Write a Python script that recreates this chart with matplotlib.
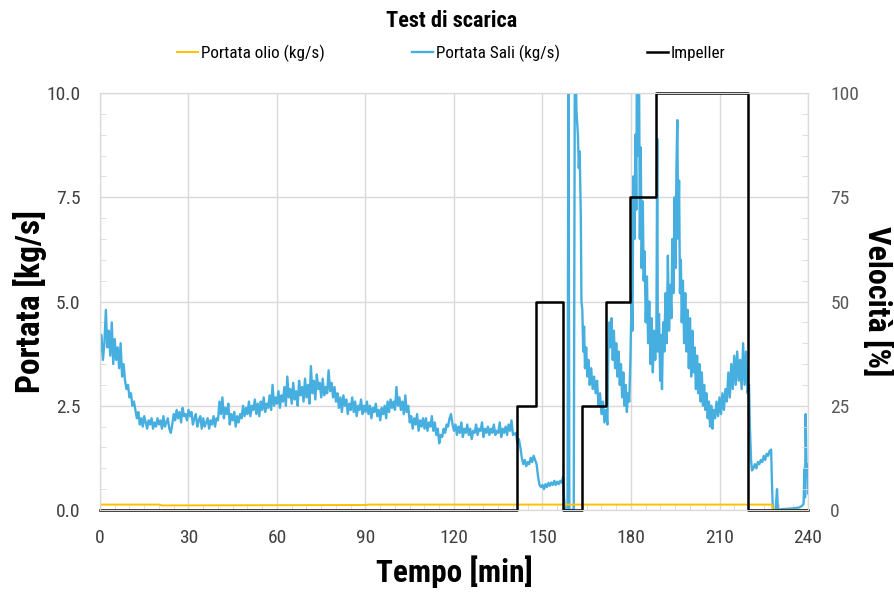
import numpy as np
import matplotlib
matplotlib.use("Agg")
import matplotlib.pyplot as plt
from matplotlib.ticker import MultipleLocator
from matplotlib import font_manager

fams = set(f.name for f in font_manager.fontManager.ttflist)
main_font = 'DejaVu Sans'
for cand in ['Roboto Condensed', 'Open Sans Condensed', 'Liberation Sans Narrow', 'Liberation Sans']:
    if cand in fams:
        main_font = cand
        break
plt.rcParams['font.family'] = [main_font, 'DejaVu Sans']

# --- data ---
# salt flow, first part (one reading every half minute, 0..140)
t_sali_a = np.arange(0, 140.5, 0.5)
sali_a = [3.8, 4.2, 3.6, 4.0, 4.8, 3.9, 4.3, 3.7, 4.5, 3.5, 4.1, 3.6, 3.9, 3.4, 4.0, 3.2, 3.5, 3.1, 2.9, 3.0,
          2.7, 2.8, 2.5, 2.6, 2.4, 2.2, 2.35, 2.05, 2.2, 2.0, 2.25, 2.1, 1.95, 2.15, 2.05, 2.2, 1.95, 2.1, 2.0, 2.2,
          2.05, 2.15, 1.95, 2.25, 2.0, 2.1, 2.2, 1.95, 1.85, 2.05, 2.3, 2.15, 2.4, 2.2, 2.35, 2.1, 2.45, 2.25, 2.3, 2.15,
          2.4, 2.25, 2.35, 2.05, 2.2, 2.3, 2.0, 2.15, 2.25, 1.95, 2.2, 2.0, 2.1, 2.2, 1.95, 2.15, 2.05, 2.25, 2.0, 2.2,
          2.15, 2.6, 2.3, 2.7, 2.2, 2.45, 2.3, 2.55, 2.05, 2.3, 2.15, 2.35, 2.0, 2.25, 2.1, 2.3, 2.2, 2.5, 2.25, 2.45,
          2.3, 2.6, 2.25, 2.5, 2.4, 2.65, 2.3, 2.55, 2.25, 2.6, 2.4, 2.7, 2.35, 2.55, 2.45, 2.75, 2.4, 3.0, 2.5, 2.7,
          2.55, 2.85, 2.45, 2.75, 2.6, 2.95, 2.5, 3.2, 2.7, 2.9, 2.55, 3.05, 2.65, 2.85, 2.5, 3.1, 2.75, 2.95, 2.6, 3.15,
          2.7, 3.0, 2.55, 3.45, 2.8, 3.1, 2.65, 3.25, 2.9, 3.05, 2.7, 3.15, 2.75, 2.95, 2.8, 3.35, 2.85, 3.05, 2.7, 2.95,
          2.6, 2.8, 2.45, 2.7, 2.35, 2.75, 2.5, 2.65, 2.3, 2.55, 2.4, 2.7, 2.35, 2.6, 2.25, 2.5, 2.4, 2.65, 2.3, 2.5,
          2.35, 2.6, 2.3, 2.5, 2.2, 2.45, 2.35, 2.55, 2.25, 2.4, 2.15, 2.45, 2.3, 2.5, 2.2, 2.6, 2.35, 2.65, 2.45, 2.6,
          2.4, 2.95, 2.5, 2.7, 2.4, 2.6, 2.3, 2.75, 2.35, 2.5, 2.1, 2.25, 1.95, 2.2, 2.05, 2.3, 1.9, 2.15, 2.0, 2.2,
          1.95, 2.2, 1.9, 2.1, 2.0, 2.25, 1.9, 2.1, 1.8, 1.95, 1.6, 1.8, 1.75, 1.95, 1.85, 2.05, 2.0, 2.2, 2.3, 2.05,
          1.9, 2.05, 1.8, 2.0, 1.85, 2.1, 1.75, 1.95, 1.85, 2.05, 1.8, 1.95, 1.7, 1.9, 1.85, 2.05, 1.8, 1.95, 1.9, 2.1,
          1.75, 1.95, 1.85, 2.0, 1.8, 1.95, 1.85, 2.05, 1.8, 1.9, 1.85, 2.1, 1.75, 1.95, 1.85, 2.0, 1.8, 2.05, 1.9, 2.15,
          1.8]

# salt flow, second part (irregular readings, 141..240)
t_sali_b = [141, 141.5, 142, 142.5, 143, 143.5, 144, 144.5, 145, 145.5,
            146, 146.5, 147, 147.5, 148, 148.5, 149, 149.5, 150, 150.5,
            151, 151.5, 152, 152.5, 153, 153.5, 154, 154.5, 155, 155.5,
            156, 156.5, 157, 157.3, 157.7, 158.5, 158.8, 159.1, 160.6, 161.0,
            161.5, 162.0, 162.3, 162.6, 163.0, 163.2, 163.5, 163.8, 164.1, 164.4,
            164.8, 165.2, 165.6, 166.0, 166.5, 167.0, 167.5, 168.0, 168.5, 169.0,
            169.5, 170.0, 170.5, 171.0, 171.5, 172.0, 172.3, 172.7, 173.0, 173.4,
            173.8, 174.2, 174.6, 175.0, 175.4, 175.8, 176.2, 176.6, 177.0, 177.4,
            177.8, 178.2, 178.6, 179.0, 179.4, 179.8, 180.2, 180.5, 180.8, 181.2,
            181.5, 181.8, 182.0, 182.4, 182.7, 183.0, 183.3, 183.6, 184.0, 184.3,
            184.6, 185.0, 185.4, 185.8, 186.2, 186.6, 187.0, 187.4, 187.8, 188.2,
            188.6, 188.9, 189.1, 189.5, 189.9, 190.2, 190.5, 190.9, 191.3, 191.7,
            192.1, 192.5, 192.9, 193.3, 193.7, 194.0, 194.4, 194.8, 195.1, 195.4,
            195.7, 196.0, 196.3, 196.6, 196.9, 197.2, 197.6, 198.0, 198.4, 198.8,
            199.2, 199.6, 200.0, 200.4, 200.8, 201.2, 201.6, 202.0, 202.4, 202.8,
            203.2, 203.6, 204.0, 204.4, 204.8, 205.2, 205.6, 206.0, 206.4, 206.8,
            207.2, 207.6, 208.0, 208.5, 209.0, 209.5, 210.0, 210.5, 211.0, 211.5,
            212.0, 212.5, 213.0, 213.5, 214.0, 214.5, 215.0, 215.5, 216.0, 216.5,
            217.0, 217.5, 218.0, 218.5, 219.0, 219.5, 220.0, 220.3, 220.7, 221.0,
            221.5, 222.0, 222.5, 223.0, 223.5, 224.0, 224.5, 225.0, 225.5, 226.0,
            226.5, 227.0, 227.5, 227.8, 228.1, 229.0, 229.5, 229.8, 231, 233,
            235, 237, 238, 238.5, 238.8, 239.0, 239.2, 239.5, 239.8, 240]
sali_b = [1.85, 1.6, 1.7, 1.5, 1.25, 1.1, 1.2, 1.05, 1.15, 1.1,
          1.25, 1.15, 1.3, 1.2, 1.1, 0.8, 0.6, 0.55, 0.6, 0.5,
          0.62, 0.55, 0.65, 0.58, 0.66, 0.6, 0.7, 0.6, 0.68, 0.62,
          0.7, 0.65, 0.8, 0.3, 0.0, 0.0, 12.0, 0.0, 0.0, 12.0,
          9.6, 9.0, 8.2, 8.6, 7.0, 5.0, 4.8, 3.8, 4.4, 3.4,
          3.9, 3.2, 3.6, 3.0, 3.4, 2.9, 3.2, 2.8, 3.1, 2.5,
          2.8, 2.3, 2.6, 2.1, 2.4, 2.05, 3.8, 4.5, 3.9, 4.6,
          3.6, 4.3, 3.4, 4.0, 3.2, 3.8, 3.0, 3.5, 2.7, 3.3,
          2.5, 3.0, 2.35, 2.8, 2.6, 3.6, 5.2, 4.3, 8.0, 6.5,
          9.0, 7.2, 11.0, 8.5, 11.0, 6.5, 8.7, 5.8, 7.4, 5.5,
          6.2, 4.5, 5.6, 4.0, 5.0, 3.5, 4.6, 3.3, 4.3, 3.6,
          4.2, 8.9, 3.8, 4.7, 3.1, 4.2, 2.9, 4.5, 3.8, 5.2,
          4.0, 6.1, 4.3, 5.4, 4.6, 6.5, 5.2, 7.5, 5.8, 8.2,
          9.35, 6.5, 7.9, 5.2, 6.0, 4.5, 5.5, 4.0, 5.2, 3.8,
          4.8, 3.4, 4.6, 3.2, 4.3, 3.3, 3.9, 2.9, 3.7, 2.8,
          3.5, 2.6, 3.3, 2.5, 3.0, 2.4, 2.8, 2.2, 2.6, 2.0,
          2.5, 1.95, 2.4, 2.2, 2.6, 2.25, 2.7, 2.3, 2.8, 2.4,
          2.9, 2.6, 3.3, 2.7, 3.5, 2.9, 3.7, 3.0, 3.8, 3.1,
          3.6, 2.9, 4.0, 3.0, 3.8, 2.8, 3.0, 2.0, 1.2, 0.95,
          1.0, 1.1, 1.0, 1.15, 1.1, 1.2, 1.15, 1.3, 1.2, 1.35,
          1.3, 1.42, 1.45, 0.6, 0.0, 0.0, 0.5, 0.0, 0.02, 0.03,
          0.04, 0.06, 0.1, 0.15, 1.0, 0.3, 2.3, 0.8, 1.1, 0.4]

t_sali = list(t_sali_a) + t_sali_b
sali = sali_a + sali_b

# oil flow
t_olio = [0, 20, 21, 90, 91, 227.8, 228.1, 240]
olio = [0.13, 0.13, 0.11, 0.12, 0.13, 0.13, 0.0, 0.0]

# impeller speed [%]
t_imp = [0, 141.3, 147.7, 157.1, 163.3, 171.4, 179.7, 188.5, 219.8, 240]
imp = [0, 25, 50, 0, 25, 50, 75, 100, 0, 0]

x_ticks = [0, 30, 60, 90, 120, 150, 180, 210, 240]

# --- plot ---
fig = plt.figure(figsize=(8.95, 5.92), dpi=100)
ax = fig.add_axes([0.1117, 0.1385, 0.7911, 0.7044])
ax2 = ax.twinx()

grid_c = '#d9d9d9'
ax.plot(t_sali, sali, color='#47AFE0', lw=1.7, label='Portata Sali (kg/s)', zorder=3)
ax.plot(t_olio, olio, color='#FFC000', lw=1.4, label='Portata olio (kg/s)', zorder=4)
ax2.plot(t_imp, imp, color='black', lw=1.8, drawstyle='steps-post', clip_on=False,
         label='Impeller')

ax.set_xlim(0, 240)
ax.set_ylim(0, 10)
ax2.set_ylim(0, 100)
ax.set_xticks(x_ticks)
ax.set_yticks([0, 2.5, 5, 7.5, 10])
ax.set_yticklabels(['0.0', '2.5', '5.0', '7.5', '10.0'])
ax2.set_yticks([0, 25, 50, 75, 100])
ax.xaxis.set_minor_locator(MultipleLocator(5))
ax.yaxis.set_minor_locator(MultipleLocator(0.5))
ax2.yaxis.set_minor_locator(MultipleLocator(5))

ax.grid(True, which='major', color=grid_c, lw=1.0)
ax.set_axisbelow(True)
for a in (ax, ax2):
    for s in a.spines.values():
        s.set_color(grid_c)
ax.tick_params(which='major', length=0, labelsize=14, colors='#404040', pad=14)
ax.tick_params(axis='y', which='major', pad=14)
ax.tick_params(which='minor', direction='in', length=4, color=grid_c)
ax2.tick_params(which='major', length=0, labelsize=14, colors='#595959', pad=16)
ax2.tick_params(which='minor', direction='in', length=4, color=grid_c)

ax.set_xlabel('Tempo [min]', fontsize=22.5, fontweight='bold', va='center')
ax.xaxis.set_label_coords(0.5, -0.148)
ax.set_ylabel('Portata [kg/s]', fontsize=24, fontweight='bold', va='center')
ax.yaxis.set_label_coords(-0.099, 0.5)
ax2.set_ylabel('Velocità [%]', fontsize=23, fontweight='bold', rotation=270, va='center')
ax2.yaxis.set_label_coords(1.098, 0.5)

fig.text(0.505, 0.965, 'Test di scarica', ha='center', va='center',
         fontsize=16, fontweight='bold')

h1, l1 = ax.get_legend_handles_labels()
h2, l2 = ax2.get_legend_handles_labels()
handles = [h1[1], h1[0], h2[0]]
labels = [l1[1], l1[0], l2[0]]
fig.legend(handles, labels, loc='center', bbox_to_anchor=(0.5045, 0.9105), ncol=3,
           frameon=False, fontsize=12.3, handlelength=1.2, handletextpad=0.2,
           columnspacing=5.1)

fig.savefig('out.png', dpi=100)
